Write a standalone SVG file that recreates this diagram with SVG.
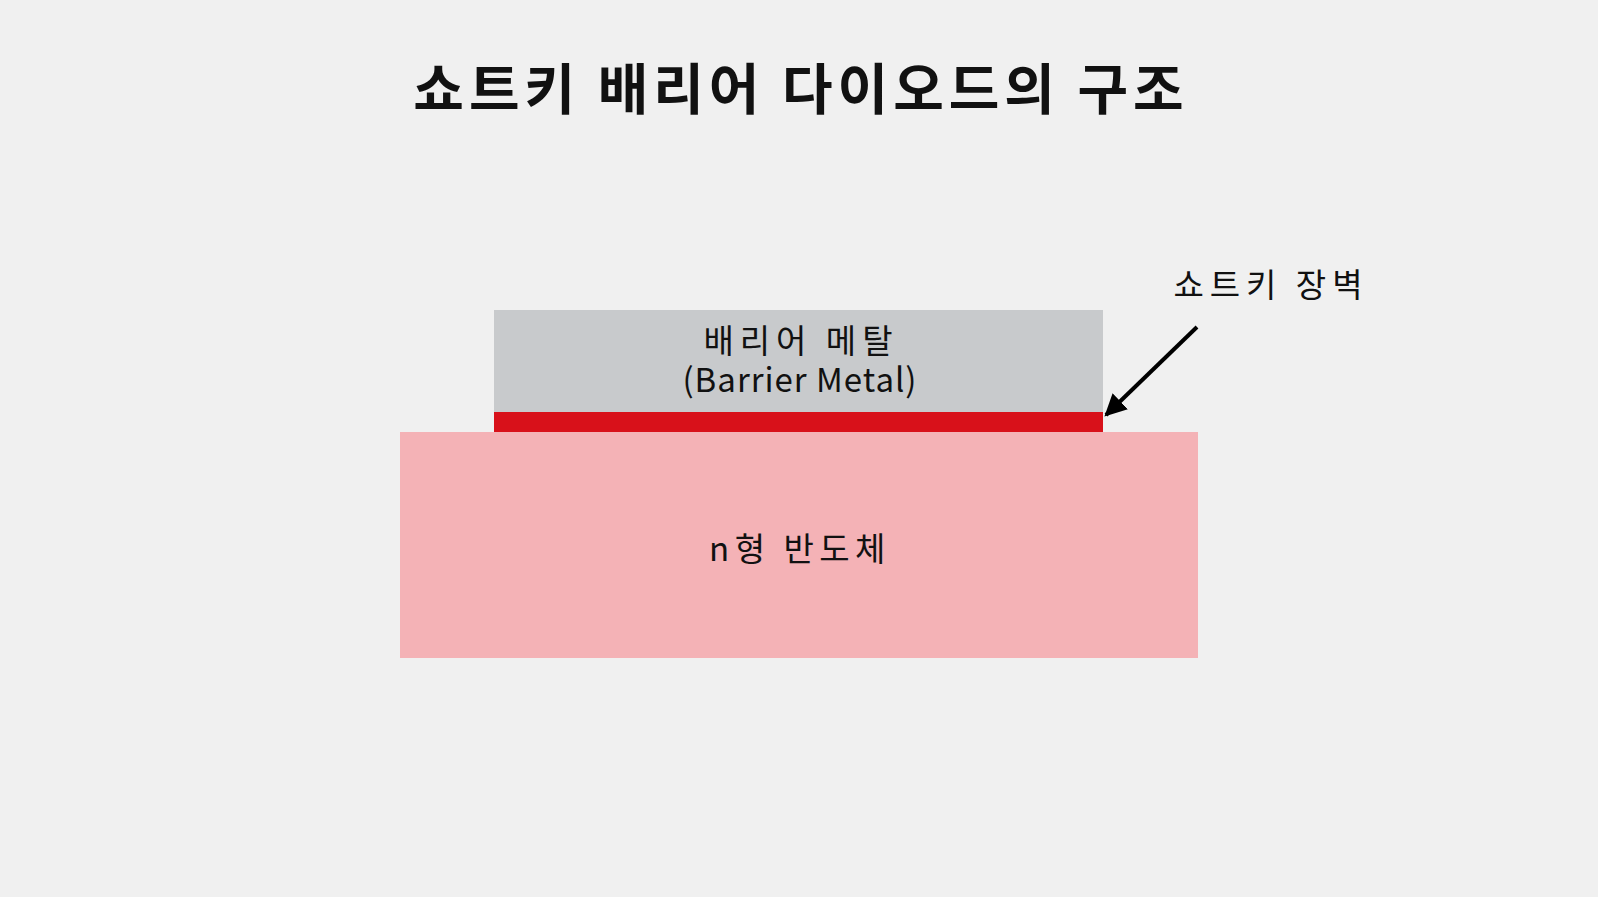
<svg xmlns="http://www.w3.org/2000/svg" width="1598" height="897" viewBox="0 0 1598 897">
<style>
.t{font-family:"Malgun Gothic","Noto Sans CJK KR","Noto Sans",sans-serif;fill:#111;}
.lbl{font-size:33px;text-anchor:middle;}
</style>
<defs>
<marker id="ah" viewBox="0 0 10 10" refX="9" refY="5" markerWidth="5.5" markerHeight="5.5" orient="auto" markerUnits="strokeWidth">
<path d="M0,0 L10,5 L0,10 z" fill="#000"/>
</marker>
</defs>
<rect width="1598" height="897" fill="#f0f0f0"/>
<text class="t" x="801" y="109" font-size="55" font-weight="bold" text-anchor="middle" letter-spacing="5">쇼트키 배리어 다이오드의 구조</text>
<g id="substrate">
<rect x="400" y="432" width="798" height="226" fill="#f4b2b6"/>
<text class="t lbl" x="800" y="561" letter-spacing="5.5">n형 반도체</text>
</g>
<g id="metal">
<rect x="494" y="310" width="609" height="102" fill="#c8cacc"/>
<text class="t lbl" x="801" y="353" letter-spacing="6">배리어 메탈</text>
<text class="t lbl" x="800" y="392" font-family="'Noto Sans',sans-serif" font-size="32" letter-spacing="1">(Barrier Metal)</text>
</g>
<g id="barrier">
<rect x="494" y="412" width="609" height="20" fill="#d8111a"/>
</g>
<g id="barrier-label">
<text class="t" x="1271" y="297" font-size="33" text-anchor="middle" letter-spacing="6">쇼트키 장벽</text>
</g>
<g id="connectors">
<line x1="1197" y1="327" x2="1106" y2="415" stroke="#000" stroke-width="4" marker-end="url(#ah)"/>
</g>
</svg>
